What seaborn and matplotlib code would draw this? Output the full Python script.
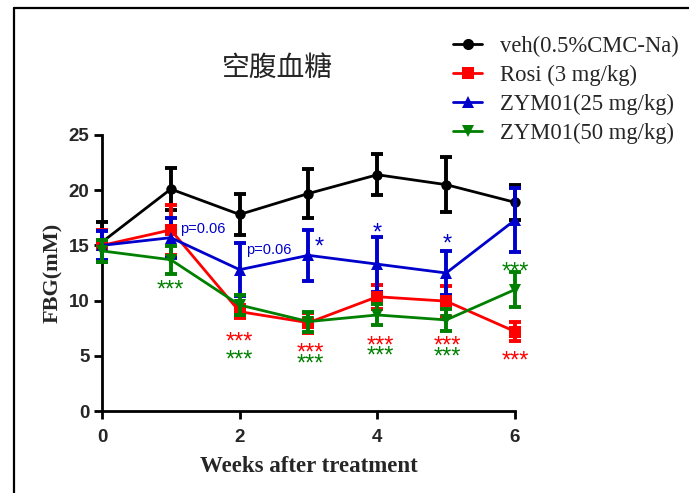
import matplotlib
matplotlib.use("Agg")
import matplotlib.pyplot as plt
from matplotlib.lines import Line2D
import seaborn as sns
import pandas as pd

# Fasting blood glucose over the treatment period (mean ± SEM, mM)
weeks = [0, 1, 2, 3, 4, 5, 6]
groups = ["veh(0.5%CMC-Na)", "Rosi (3 mg/kg)", "ZYM01(25 mg/kg)", "ZYM01(50 mg/kg)"]

veh_mean = [15.3, 20.1, 17.8, 19.7, 21.4, 20.5, 18.9]
veh_sem = [1.8, 1.9, 1.9, 2.2, 1.85, 2.5, 1.6]
rosi_mean = [15.0, 16.4, 9.0, 8.0, 10.35, 9.95, 7.2]
rosi_sem = [1.4, 2.3, 0.6, 0.9, 1.1, 1.4, 0.85]
zym25_mean = [15.0, 15.7, 12.8, 14.1, 13.3, 12.5, 17.3]
zym25_sem = [1.3, 1.8, 2.4, 2.3, 2.5, 1.95, 2.9]
zym50_mean = [14.5, 13.7, 9.6, 8.1, 8.7, 8.25, 11.0]
zym50_sem = [1.0, 1.25, 0.9, 0.9, 0.95, 1.0, 1.6]

colors = ["#000000", "#FF0000", "#0000CC", "#008000"]
markers = ["o", "s", "^", "v"]
msizes = [7.5, 8, 8, 8]

means = [veh_mean, rosi_mean, zym25_mean, zym50_mean]
sems = [veh_sem, rosi_sem, zym25_sem, zym50_sem]

df = pd.concat(
    [pd.DataFrame({"week": weeks, "fbg": m, "sem": s, "group": g})
     for g, m, s in zip(groups, means, sems)],
    ignore_index=True,
)

# Significance labels: (x, y of star centre, text, colour index)
stars = [
    (1.0, 11.4, "***", 3),
    (2.0, 6.7, "***", 1), (2.0, 5.1, "***", 3),
    (3.02, 5.7, "***", 1), (3.02, 4.7, "***", 3),
    (4.05, 6.4, "***", 1), (4.05, 5.5, "***", 3),
    (5.02, 6.4, "***", 1), (5.02, 5.4, "***", 3),
    (6.0, 5.0, "***", 1), (6.0, 13.1, "***", 3),
    (3.16, 15.3, "*", 2), (4.0, 16.6, "*", 2), (5.02, 15.6, "*", 2),
]
pvals = [(1.13, 16.5, "p=0.06"), (2.09, 14.6, "p=0.06")]

sns.set_theme(style="white")
plt.rcParams["font.family"] = ["Liberation Sans", "DejaVu Sans"]

fig = plt.figure(figsize=(6.89, 4.93), dpi=100)
ax = fig.add_axes([0.148, 0.1663, 0.5995, 0.5599])

draw_order = [2, 3, 0, 1]
for i in draw_order:
    g = groups[i]
    sub = df[df["group"] == g]
    ax.errorbar(sub["week"], sub["fbg"], yerr=sub["sem"], fmt="none",
                ecolor=colors[i], elinewidth=2.8, capsize=4.5, capthick=2.8,
                zorder=2 + i, clip_on=False)
    sns.lineplot(data=sub, x="week", y="fbg", ax=ax, color=colors[i],
                 marker=markers[i], markersize=msizes[i], markeredgewidth=0,
                 linewidth=2.0, zorder=3 + i, clip_on=False, legend=False)

ax.set_xlim(0, 6)
ax.set_ylim(0, 25)
ax.set_xticks([0, 2, 4, 6])
ax.set_yticks([0, 5, 10, 15, 20, 25])
for s in ["top", "right"]:
    ax.spines[s].set_visible(False)
for s in ["left", "bottom"]:
    ax.spines[s].set_linewidth(2.0)
    ax.spines[s].set_color("black")
ax.tick_params(axis="both", which="major", direction="out", length=6,
               width=2.0, color="black", labelsize=13.5, left=True, bottom=True)
ax.tick_params(axis="x", pad=7)
ax.tick_params(axis="y", pad=3)
for lab in ax.get_xticklabels() + ax.get_yticklabels():
    lab.set_fontweight("bold")

ax.set_xlabel("Weeks after treatment", family=["Liberation Serif"],
              fontsize=16.5, fontweight="bold", labelpad=7)
ax.set_ylabel("FBG(mM)", family=["Liberation Serif"], fontsize=16,
              fontweight="bold", labelpad=4)

# Star glyphs sit high in the line box; shift the baseline so the glyph
# centre lands on the given y value.
star_size = 17
for x, y, t, ci in stars:
    ax.annotate(t, xy=(x, y), xytext=(0, -0.5 * star_size),
                textcoords="offset points", color=colors[ci],
                fontsize=star_size, ha="center", va="baseline", zorder=10,
                annotation_clip=False)
for x, y, t in pvals:
    ax.text(x, y, t, color=colors[2], fontsize=10.5, ha="left",
            va="center", zorder=10)

fig.text(0.402, 0.862, "空腹血糖", fontsize=20,
         family=["Noto Sans CJK SC", "DejaVu Sans"], ha="center", va="center")

handles = [Line2D([], [], color=c, marker=m, markersize=8, linewidth=2.0,
                  markeredgewidth=0) for c, m in zip(colors, markers)]
fig.legend(handles, groups, loc="upper left", bbox_to_anchor=(0.645, 0.945),
           frameon=False, prop={"family": "Liberation Serif", "size": 16.3},
           handlelength=1.25, handletextpad=0.8, labelspacing=0.34,
           borderaxespad=0)

# Outer frame lines
fig.add_artist(Line2D([0.0203, 1.0], [0.9838, 0.9838], color="black",
                      linewidth=1.6, transform=fig.transFigure))
fig.add_artist(Line2D([0.0203, 0.0203], [0.0, 0.9838], color="black",
                      linewidth=1.6, transform=fig.transFigure))

fig.savefig("out.png", dpi=100)
